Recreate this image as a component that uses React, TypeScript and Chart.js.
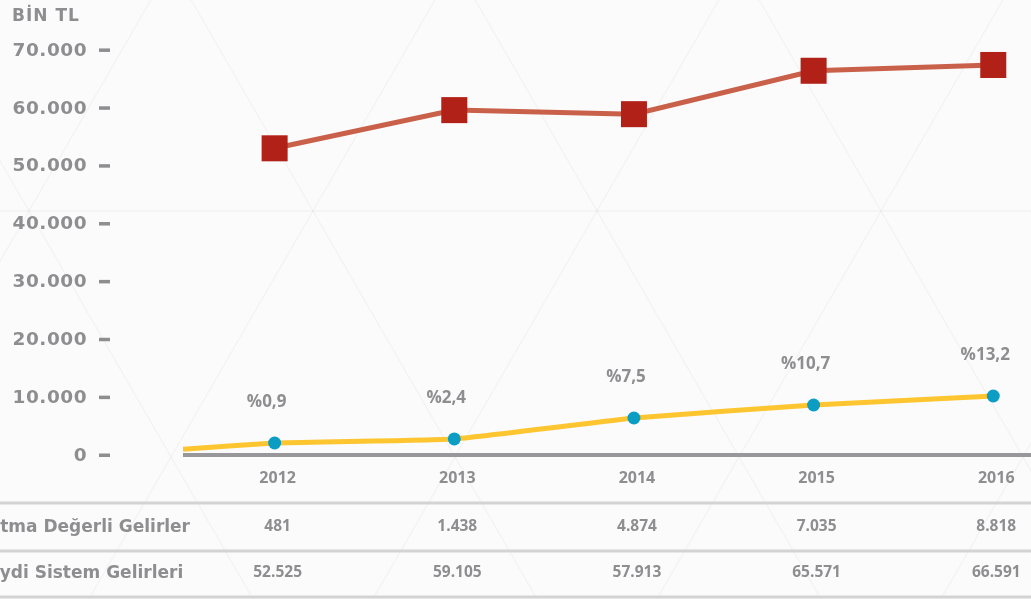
import React, { useEffect, useRef } from 'react';
import { Chart, registerables } from 'chart.js';

Chart.register(...registerables);

const years = ['2012', '2013', '2014', '2015', '2016'];
const kaydiPlot = [53000, 59600, 58900, 66400, 67400];
const katmaPlot = [2070, 2770, 6390, 8640, 10200];
const katmaStart = 1000;
const pctLabels = ['%0,9', '%2,4', '%7,5', '%10,7', '%13,2'];
const katmaTable = [481, 1438, 4874, 7035, 8818];
const kaydiTable = [52525, 59105, 57913, 65571, 66591];
const rowLabels = ['Katma Değerli Gelirler', 'Kaydi Sistem Gelirleri'];
const yTicks = [0, 10000, 20000, 30000, 40000, 50000, 60000, 70000];
const unitLabel = 'BİN TL';

const GRAY = '#8e8e91';

function fmt(n: number): string {
  return String(n).replace(/\B(?=(\d{3})+(?!\d))/g, '.');
}

const decorPlugin = {
  id: 'decor',
  beforeDraw(chart: any) {
    const { ctx, width, height } = chart;
    ctx.save();
    ctx.fillStyle = '#fbfbfb';
    ctx.fillRect(0, 0, width, height);
    ctx.strokeStyle = 'rgba(0,0,0,0.03)';
    ctx.lineWidth = 1.5;
    const s = 0.5774;
    for (let k = -6; k <= 8; k++) {
      const c1 = 475.2 + k * 284;
      const c2 = 718.8 + k * 284;
      ctx.beginPath();
      ctx.moveTo(c1 + s * -20, -20);
      ctx.lineTo(c1 + s * 640, 640);
      ctx.stroke();
      ctx.beginPath();
      ctx.moveTo(c2 - s * -20, -20);
      ctx.lineTo(c2 - s * 640, 640);
      ctx.stroke();
    }
    ctx.beginPath();
    ctx.moveTo(0, 211);
    ctx.lineTo(width, 211);
    ctx.stroke();
    ctx.restore();
  },
  beforeDatasetsDraw(chart: any) {
    const { ctx, width } = chart;
    const y0 = chart.scales.y.getPixelForValue(0);
    ctx.save();
    ctx.fillStyle = '#98989b';
    ctx.fillRect(chart.chartArea.left, y0 - 2, width - chart.chartArea.left, 4);
    ctx.restore();
  },
  afterDraw(chart: any) {
    const { ctx, width } = chart;
    const xs = chart.scales.x;
    const ys = chart.scales.y;
    ctx.save();
    ctx.fillStyle = GRAY;
    ctx.font = 'bold 17px "DejaVu Sans"';
    (ctx as any).letterSpacing = '1px';
    ctx.textAlign = 'left';
    ctx.textBaseline = 'middle';
    ctx.fillText(unitLabel, 12, 17);
    ctx.font = 'bold 18.5px "DejaVu Sans"';
    (ctx as any).letterSpacing = '0.5px';
    ctx.textAlign = 'right';
    yTicks.forEach((t) => {
      const y = ys.getPixelForValue(t);
      ctx.fillText(fmt(t), 87, y + 1);
      ctx.fillRect(99, y - 1.5, 11, 3.5);
    });
    (ctx as any).letterSpacing = '0px';
    ctx.font = 'bold 16px "Open Sans"';
    ctx.textAlign = 'center';
    years.forEach((yr, i) => {
      ctx.fillText(yr, xs.getPixelForValue(i) + 3, 478);
    });
    ctx.font = 'bold 17px "Open Sans"';
    pctLabels.forEach((p, i) => {
      const px = xs.getPixelForValue(i);
      const py = ys.getPixelForValue(katmaPlot[i]);
      ctx.fillText(p, px - 8, py - 41);
    });
    ctx.fillStyle = '#d3d3d5';
    [503, 551, 597].forEach((y) => ctx.fillRect(0, y - 1.5, width, 3));
    ctx.fillStyle = GRAY;
    ctx.font = 'bold 15.5px "Open Sans"';
    ctx.textAlign = 'center';
    katmaTable.forEach((v, i) => ctx.fillText(fmt(v), xs.getPixelForValue(i) + 3, 527));
    kaydiTable.forEach((v, i) => ctx.fillText(fmt(v), xs.getPixelForValue(i) + 3, 573));
    ctx.font = 'bold 17px "DejaVu Sans"';
    const cut = ctx.measureText(rowLabels[0].slice(2)).width;
    const size = Math.min(20, (17 * 190) / cut);
    ctx.font = `bold ${size.toFixed(1)}px "DejaVu Sans"`;
    const full = ctx.measureText(rowLabels[0]).width;
    const x0 = 190 - full;
    ctx.textAlign = 'left';
    ctx.fillText(rowLabels[0], x0, 528);
    ctx.fillText(rowLabels[1], x0, 574);
    ctx.restore();
  },
};

export default function App() {
  const ref = useRef<HTMLCanvasElement | null>(null);
  useEffect(() => {
    if (!ref.current) return;
    const chart = new Chart(ref.current, {
      type: 'line',
      data: {
        datasets: [
          {
            label: 'Kaydi Sistem Gelirleri',
            data: kaydiPlot.map((v, i) => ({ x: i, y: v })),
            borderColor: '#c9604a',
            borderWidth: 5,
            pointStyle: 'rect',
            pointRadius: 18.4,
            pointHoverRadius: 18.4,
            pointBackgroundColor: '#b22118',
            pointBorderColor: '#b22118',
            pointBorderWidth: 0,
            tension: 0,
          },
          {
            label: 'Katma Değerli Gelirler',
            data: [{ x: -0.51, y: katmaStart }].concat(katmaPlot.map((v, i) => ({ x: i, y: v }))),
            borderColor: '#fdc52f',
            borderWidth: 5,
            pointStyle: 'circle',
            pointRadius: [0, 6.5, 6.5, 6.5, 6.5, 6.5],
            pointHoverRadius: 6.5,
            pointBackgroundColor: '#0b9dc4',
            pointBorderColor: '#0b9dc4',
            pointBorderWidth: 0,
            tension: 0.1,
          },
        ],
      },
      options: {
        animation: false,
        responsive: false,
        layout: { autoPadding: false, padding: { left: 183, right: 0, top: 21, bottom: 144 } },
        plugins: { legend: { display: false }, tooltip: { enabled: false } },
        scales: {
          x: { type: 'linear', min: -0.51, max: 4.21, display: false },
          y: { type: 'linear', min: 0, max: 75000, display: false },
        },
      },
      plugins: [decorPlugin],
    });
    return () => chart.destroy();
  }, []);
  return (
    <div style={{ position: 'fixed', left: 0, top: 0, width: 1031, height: 599 }}>
      <canvas ref={ref} width={1031} height={599} style={{ display: 'block' }} />
    </div>
  );
}
